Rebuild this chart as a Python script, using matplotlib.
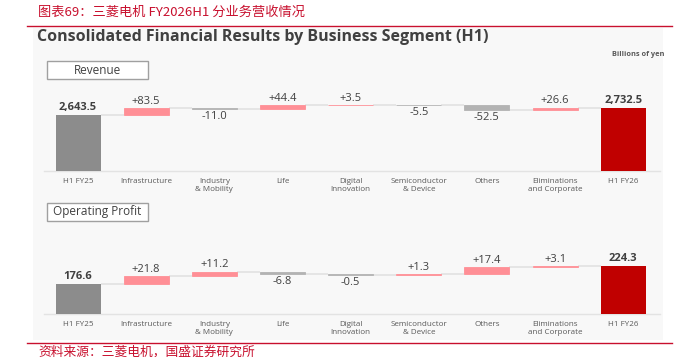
import numpy as np
import matplotlib
matplotlib.use("Agg")
import matplotlib.pyplot as plt
from matplotlib.patches import Rectangle

plt.rcParams['font.family'] = ['Open Sans', 'DejaVu Sans']

categories = ["H1 FY25", "Infrastructure", "Industry\n& Mobility", "Life", "Digital\nInnovation",
              "Semiconductor\n& Device", "Others", "Eliminations\nand Corporate", "H1 FY26"]

revenue_start = 2643.5
revenue_changes = [83.5, -11.0, 44.4, 3.5, -5.5, -52.5, 26.6]
revenue_end = 2732.5

profit_start = 176.6
profit_changes = [21.8, 11.2, -6.8, -0.5, 1.3, 17.4, 3.1]
profit_end = 224.3

W, H = 682, 357
RED = '#c8102e'
POS = '#ff8f96'
NEG = '#b3b3b3'
START = '#8c8c8c'
END = '#c00000'
LINE = '#e3e3e3'
TXT = '#404040'


def fx(px):
    return px / W


def fy(py):
    return 1 - py / H


def waterfall(ax, start, changes, end, fmt_total):
    n = len(changes) + 2
    x = np.arange(n)
    bw = 0.66
    base = ax.get_ylim()[0]
    # start and end totals
    ax.bar(0, start - base, bottom=base, width=bw, color=START, zorder=3)
    ax.bar(n - 1, end - base, bottom=base, width=bw, color=END, zorder=3)
    ax.annotate(fmt_total.format(start), (0, start), xytext=(0, 1.5), textcoords='offset points',
                ha='center', va='bottom', fontsize=8, fontweight='bold', color=TXT)
    ax.annotate(fmt_total.format(end), (n - 1, end), xytext=(0, 1.5), textcoords='offset points',
                ha='center', va='bottom', fontsize=8, fontweight='bold', color=TXT)

    level = start
    levels = [start]
    for i, c in enumerate(changes, start=1):
        col = POS if c > 0 else NEG
        bottom = level if c > 0 else level + c
        ax.bar(i, abs(c), bottom=bottom, width=bw, color=col, edgecolor=col, linewidth=0.6, zorder=3)
        if c > 0:
            ax.annotate(f"+{c:.1f}", (i, level + c), xytext=(0, 1), textcoords='offset points',
                        ha='center', va='bottom', fontsize=8, color=TXT)
        else:
            ax.annotate(f"{c:.1f}", (i, level + c), xytext=(0, -1.5), textcoords='offset points',
                        ha='center', va='top', fontsize=8, color=TXT)
        level += c
        levels.append(level)
    levels.append(end)

    # connector lines
    for i in range(n - 1):
        ax.plot([i + bw / 2, i + 1 - bw / 2], [levels[i], levels[i]], color=LINE, lw=1.3, zorder=2,
                solid_capstyle='butt')

    ax.set_xlim(-0.5, 8.54)
    ax.set_xticks(x)
    ax.set_xticklabels(categories, fontsize=5.8, color='#595959', linespacing=1.25)
    ax.tick_params(axis='x', length=0, pad=5)
    ax.set_yticks([])
    for s in ['top', 'right', 'left']:
        ax.spines[s].set_visible(False)
    ax.spines['bottom'].set_color(LINE)
    ax.spines['bottom'].set_linewidth(1)
    ax.set_facecolor('none')


fig = plt.figure(figsize=(W / 100, H / 100), dpi=100)

# light panel
fig.patches.append(Rectangle((fx(33), fy(340)), fx(663) - fx(33), (340 - 28) / H,
                             transform=fig.transFigure, facecolor='#f8f8f8', edgecolor='none', zorder=-10))

# header and footer
fig.text(fx(38), fy(12), "图表69：三菱电机 FY2026H1 分业务营收情况", color=RED, fontsize=9.5,
         style='italic', family=['Noto Sans CJK SC', 'DejaVu Sans'], va='center', ha='left')
fig.lines.append(plt.Line2D([fx(27), fx(672)], [fy(26), fy(26)], transform=fig.transFigure,
                            color=RED, lw=1))
fig.lines.append(plt.Line2D([fx(27), fx(672)], [fy(343), fy(343)], transform=fig.transFigure,
                            color=RED, lw=1))
fig.text(fx(38), fy(352), "资料来源：三菱电机，国盛证券研究所", color=RED, fontsize=9.2,
         style='italic', family=['Noto Sans CJK SC', 'DejaVu Sans'], va='center', ha='left')

fig.text(fx(37), fy(37), "Consolidated Financial Results by Business Segment (H1)", fontsize=11.5,
         fontweight='bold', color=TXT, va='center', ha='left')
fig.text(fx(664), fy(54), "Billions of yen", fontsize=5.3, fontweight='bold', color='#595959',
         va='center', ha='right')

# section boxes
for label, top in [("Revenue", 61), ("Operating Profit", 203)]:
    fig.patches.append(Rectangle((fx(47), fy(top + 18)), fx(148) - fx(47), 18 / H,
                                 transform=fig.transFigure, facecolor='white', edgecolor='#a0a0a0',
                                 lw=1, zorder=2))
    fig.text(fx(97.5), fy(top + 9), label, fontsize=8.5, color=TXT, va='center', ha='center', zorder=3)

# revenue
ax1 = fig.add_axes([fx(44), fy(171), fx(660) - fx(44), (171 - 95) / H])
ax1.set_ylim(2000, 2000 + 76 * 11.56)
waterfall(ax1, revenue_start, revenue_changes, revenue_end, "{:,.1f}")

# operating profit
ax2 = fig.add_axes([fx(44), fy(314), fx(660) - fx(44), (314 - 240) / H])
ax2.set_ylim(100, 100 + 74 * 2.59)
waterfall(ax2, profit_start, profit_changes, profit_end, "{:,.1f}")

fig.savefig("out.png", dpi=100)
